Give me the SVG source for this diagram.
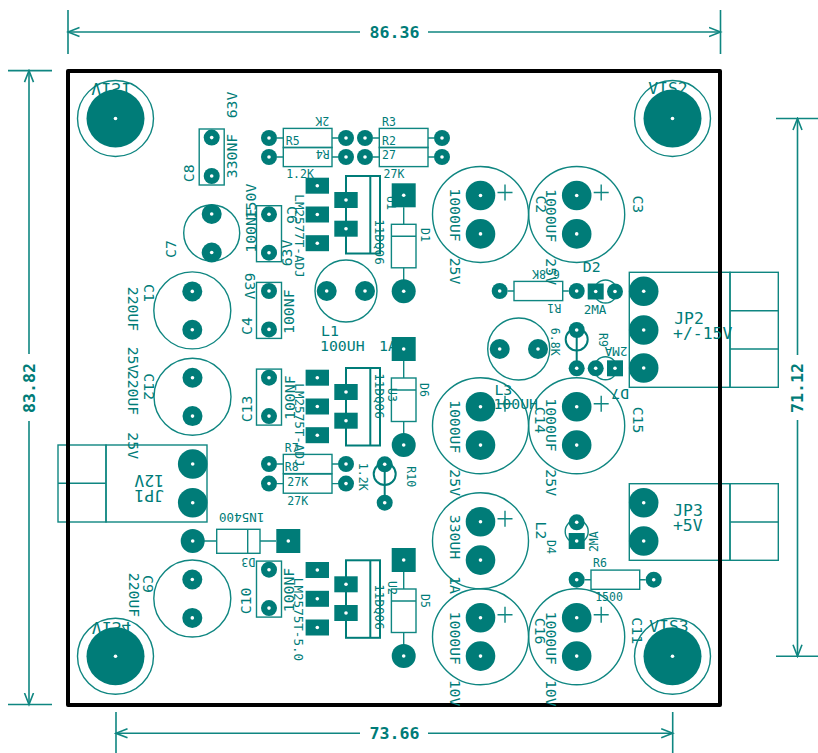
<svg xmlns="http://www.w3.org/2000/svg" width="818" height="753" viewBox="0 0 818 753">
<style>
text{font-family:"DejaVu Sans Mono","Liberation Mono",monospace;fill:#007c78;text-anchor:middle;dominant-baseline:central;font-size:14.8px}
.s{font-size:11.5px}.m{font-size:12.6px}.b{font-size:16.4px}
.d{font-size:16.6px;font-weight:bold}
.o{fill:none;stroke:#0f8681;stroke-width:1.4}
.h{fill:#fff}.f{fill:#007c78}
.th{fill:none;stroke:#007c78;stroke-width:2}
.dim{fill:none;stroke:#0f8681;stroke-width:1.6}
</style>
<defs>
<marker id="arr" markerUnits="userSpaceOnUse" markerWidth="14" markerHeight="12" refX="12" refY="6" orient="auto-start-reverse" viewBox="0 0 14 12"><path d="M0.5,1.5 L12,6 L0.5,10.5" fill="none" stroke="#0f8681" stroke-width="1.6"/></marker>
<g id="p8"><circle r="8" class="f"/><circle r="1.8" class="h"/></g>
<g id="p10"><circle r="10" class="f"/><circle r="1.8" class="h"/></g>
<g id="p12"><circle r="12" class="f"/><circle r="1.8" class="h"/></g>
<g id="p15"><circle r="14.8" class="f"/><circle r="1.8" class="h"/></g>
<g id="s16"><rect x="-8" y="-8" width="16" height="16" class="f"/><circle r="1.8" class="h"/></g>
<g id="s24"><rect x="-12" y="-12" width="24" height="24" class="f"/><circle r="1.8" class="h"/></g>
<g id="smd"><rect x="-11.7" y="-8" width="23.4" height="16" class="f"/><circle r="1.8" class="h"/></g>
<g id="mount"><circle r="38" class="o"/><circle r="29" class="f"/><circle r="1.8" class="h"/></g>
<g id="ecap"><circle r="48" cy="19" class="o"/><use href="#p15"/><use href="#p15" y="38.4"/><path class="o" d="M17,-3H32M24.5,-11V5"/></g>
<g id="cap38"><circle r="38.5" cy="19" class="o"/><use href="#p10"/><use href="#p10" y="38.4"/></g>
<g id="film"><rect x="-12.5" y="-8.6" width="25" height="56" class="o"/><use href="#p8"/><use href="#p8" y="38.4"/></g>
<g id="res"><rect x="14.3" y="-9.6" width="48.7" height="19.2" class="o"/><path class="o" d="M8,0H14.3M63,0H69"/><use href="#p8"/><use href="#p8" x="77"/></g>
<g id="diode"><rect x="-12.3" y="29" width="24.6" height="43.5" class="o"/><path class="o" d="M-12.3,41H12.3M0,12V29M0,72.5V86"/><use href="#s24"/><use href="#p12" y="96"/></g>
<g id="reg"><rect x="28.7" y="-9.7" width="34" height="77.5" class="th"/><path class="th" d="M53,-9.7V67.8"/><use href="#smd"/><use href="#smd" y="28.8"/><use href="#smd" y="57.5"/><use href="#smd" x="28.7" y="14.3"/><use href="#smd" x="28.7" y="43"/></g>
</defs>
<rect width="818" height="753" fill="#fff"/>

<g id="C8"><use href="#film" x="211.7" y="137.6"/></g>
<g id="C6"><use href="#film" x="269" y="214.3"/></g>
<g id="C4"><use href="#film" x="269" y="291"/></g>
<g id="C13"><use href="#film" x="269" y="377.7"/></g>
<g id="C10"><use href="#film" x="269" y="569.7"/></g>
<g id="C7"><circle cx="211.7" cy="233" r="28" class="o"/><use href="#p10" x="211.7" y="214"/><use href="#p10" x="211.7" y="252.5"/></g>
<g id="C1"><use href="#cap38" x="192.3" y="291.4"/></g>
<g id="C12"><use href="#cap38" x="192.5" y="377.7"/></g>
<g id="C9"><use href="#cap38" x="192.3" y="579.5"/></g>
<g id="L1"><circle cx="346" cy="291" r="31" class="o"/><use href="#p10" x="326.7" y="291"/><use href="#p10" x="365" y="291"/></g>
<g id="L3"><circle cx="518.7" cy="349" r="31" class="o"/><use href="#p10" x="499.7" y="349"/><use href="#p10" x="538" y="349"/></g>
<g id="C2"><use href="#ecap" x="480.5" y="195.5"/></g>
<g id="C3"><use href="#ecap" x="576.7" y="195.5"/></g>
<g id="C14"><use href="#ecap" x="480.5" y="406.7"/></g>
<g id="C15"><use href="#ecap" x="576.7" y="406.7"/></g>
<g id="L2"><use href="#ecap" x="480.5" y="521.7"/></g>
<g id="C16"><use href="#ecap" x="480.5" y="617.7"/></g>
<g id="C11"><use href="#ecap" x="576.7" y="617.7"/></g>
<g id="R5"><use href="#res" x="269" y="138"/></g>
<g id="R4"><use href="#res" x="269" y="157"/></g>
<g id="R2"><use href="#res" x="365" y="138"/></g>
<g id="R3"><use href="#res" x="365" y="157"/></g>
<g id="R1"><use href="#res" x="499.7" y="291"/></g>
<g id="R7"><use href="#res" x="269" y="464"/></g>
<g id="R8"><use href="#res" x="269" y="483.6"/></g>
<g id="R6"><use href="#res" x="576.7" y="579.7"/></g>
<g id="D1"><use href="#diode" x="403.7" y="195.3"/></g>
<g id="D6"><use href="#diode" x="403.7" y="349"/></g>
<g id="D5"><use href="#diode" x="403.7" y="560"/></g>
<g id="D3"><rect x="216.7" y="529.3" width="43.3" height="24" class="o"/><path class="o" d="M247.7,529.3V553.3M204,541H216.7M260,541H276"/><use href="#p12" x="192.7" y="541"/><use href="#s24" x="288.3" y="541"/></g>
<g id="D2"><circle cx="605.5" cy="291.5" r="11.5" class="o"/><use href="#s16" x="595.7" y="291.5"/><use href="#p8" x="615" y="291.5"/></g>
<g id="D7"><circle cx="605.5" cy="368.3" r="11.5" class="o"/><use href="#s16" x="615" y="368.3"/><use href="#p8" x="595.7" y="368.3"/></g>
<g id="D4"><circle cx="576.7" cy="531.5" r="11.5" class="o"/><use href="#p8" x="576.7" y="522.3"/><use href="#s16" x="576.7" y="541"/></g>
<g id="R9"><circle cx="576.7" cy="339.5" r="11" class="th"/><path class="th" d="M576.7,330V368"/><use href="#p8" x="576.7" y="330"/><use href="#p8" x="576.7" y="368.3"/></g>
<g id="R10"><circle cx="384.7" cy="474" r="11" class="th"/><path class="th" d="M384.7,464V503"/><use href="#p8" x="384.7" y="464.3"/><use href="#p8" x="384.7" y="502.7"/></g>
<g id="U1"><use href="#reg" x="317.3" y="185.7"/></g>
<g id="U3"><use href="#reg" x="317.3" y="377.7"/></g>
<g id="U2"><use href="#reg" x="317.3" y="570"/></g>
<g id="JP2"><rect x="629.3" y="272.3" width="100.7" height="115" class="o"/><rect x="730" y="272.3" width="48.3" height="115" class="o"/><path class="o" d="M730,310.7H778.3M730,349H778.3"/><use href="#p15" x="643.7" y="291.3"/><use href="#p15" x="643.7" y="330"/><use href="#p15" x="643.7" y="368"/></g>
<g id="JP3"><rect x="629.3" y="483.7" width="100.7" height="76.6" class="o"/><rect x="730" y="483.7" width="48.3" height="76.6" class="o"/><path class="o" d="M730,522H778.3"/><use href="#p15" x="643.7" y="502.7"/><use href="#p15" x="643.7" y="541"/></g>
<g id="JP1"><rect x="106" y="445" width="101" height="77" class="o"/><rect x="58" y="445" width="48" height="77" class="o"/><path class="o" d="M58,483.3H106"/><use href="#p15" x="192.7" y="464"/><use href="#p15" x="192.7" y="502.7"/></g>
<g id="VIS1"><use href="#mount" x="115.5" y="118.5"/></g>
<g id="VIS2"><use href="#mount" x="672.5" y="118.5"/></g>
<g id="VIS3"><use href="#mount" x="672.5" y="656.3"/></g>
<g id="VIS4"><use href="#mount" x="115.5" y="656.3"/></g>

<rect id="board" x="68" y="71" width="652" height="634" fill="none" stroke="#000" stroke-width="4" stroke-linejoin="round"/>

<g id="connectors">
<path class="dim" d="M68,10V54M720.5,10V54M8,70.6H52M8,704.5H52M776,118.5H818M776,656.3H818M116,712V753M672.7,712V753"/>
<path class="dim" marker-start="url(#arr)" d="M68,32H360"/><path class="dim" marker-start="url(#arr)" d="M720.5,32H428"/>
<path class="dim" marker-start="url(#arr)" d="M29,70.6V354"/><path class="dim" marker-start="url(#arr)" d="M29,704.5V421"/>
<path class="dim" marker-start="url(#arr)" d="M797.5,118.5V355"/><path class="dim" marker-start="url(#arr)" d="M797.5,656.3V420"/>
<path class="dim" marker-start="url(#arr)" d="M116,733.3H360"/><path class="dim" marker-start="url(#arr)" d="M672.7,733.3H428"/>
</g>

<g id="labels">
<text class="d" x="394.5" y="32">86.36</text>
<text class="d" transform="translate(29,388) rotate(-90)">83.82</text>
<text class="d" transform="translate(797.5,388) rotate(-90)">71.12</text>
<text class="d" x="394.5" y="733.3">73.66</text>
<text class="b" transform="translate(111,88) scale(1,-1)">VIS1</text>
<text class="b" x="668" y="88">VIS2</text>
<text class="b" x="669" y="626">VIS3</text>
<text class="b" transform="translate(111.5,627) scale(1,-1)">VIS4</text>
<text transform="translate(231.7,105) rotate(-90)">63V</text>
<text transform="translate(231.7,156) rotate(-90)">330NF</text>
<text transform="translate(188.3,173.3) rotate(-90)">C8</text>
<text transform="translate(170,249) rotate(-90)">C7</text>
<text transform="translate(149,293) rotate(90)">C1</text>
<text transform="translate(133,309) rotate(90)">220UF</text>
<text transform="translate(133.3,360) rotate(90)">25V</text>
<text transform="translate(133.3,393) rotate(90)">220UF</text>
<text transform="translate(149,386.7) rotate(90)">C12</text>
<text transform="translate(133.3,445.7) rotate(90)">25V</text>
<text transform="translate(246.7,409) rotate(-90)">C13</text>
<text transform="translate(289,397.7) rotate(-90)">100NF</text>
<text class="m" transform="translate(299,425) rotate(90)">LM2575T-ADJ</text>
<text class="m" transform="translate(299,236) rotate(90)">LM2577T-ADJ</text>
<text class="m" transform="translate(298.7,619.5) rotate(90)">LM2575T-5.0</text>
<text transform="translate(288.3,590) rotate(-90)">100NF</text>
<text transform="translate(245.7,601) rotate(-90)">C10</text>
<text class="s" transform="translate(248.3,562.3) rotate(180)">D3</text>
<text class="m" transform="translate(241.7,517.7) rotate(180)">1N5400</text>
<text class="b" transform="translate(149.3,495.3) rotate(180)">JP1</text>
<text class="b" transform="translate(149.3,480.7) rotate(180)">12V</text>
<text transform="translate(148.3,584) rotate(90)">C9</text>
<text transform="translate(134,595) rotate(90)">220UF</text>
<text transform="translate(246,326) rotate(-90)">C4</text>
<text transform="translate(250,286) rotate(90)">63V</text>
<text transform="translate(288.3,311.7) rotate(-90)">100NF</text>
<text transform="translate(292,215) rotate(90)">C6</text>
<text transform="translate(286.7,253) rotate(-90)">63V</text>
<text transform="translate(250.7,230.5) rotate(-90)">100NF</text>
<text transform="translate(250.7,201.5) rotate(-90)">150V</text>
<text x="330" y="330.7">L1</text>
<text x="342.3" y="345.7">100UH</text>
<text x="388" y="345.7">1A</text>
<text class="s" transform="translate(391,203) rotate(90)">U1</text>
<text class="m" transform="translate(379,242) rotate(90)">11DQ06</text>
<text class="s" transform="translate(391.7,395) rotate(90)">U3</text>
<text class="m" transform="translate(379,396) rotate(90)">11DQ06</text>
<text class="s" transform="translate(391.7,588) rotate(90)">U2</text>
<text class="m" transform="translate(379.3,607) rotate(90)">11DQ06</text>
<text class="s" transform="translate(425,235) rotate(90)">D1</text>
<text class="s" transform="translate(424,390) rotate(90)">D6</text>
<text class="s" transform="translate(425,601) rotate(90)">D5</text>
<text class="s" x="292.7" y="140.7">R5</text>
<text class="s" transform="translate(322.7,154.3) rotate(180)">R4</text>
<text class="s" transform="translate(322.3,120.7) rotate(180)">2K</text>
<text class="s" x="300" y="174.3">1.2K</text>
<text class="s" x="389" y="121.7">R3</text>
<text class="s" x="389" y="140.7">R2</text>
<text class="s" x="389" y="155">27</text>
<text class="s" x="394" y="174.3">27K</text>
<text transform="translate(455.7,215) rotate(90)">1000UF</text>
<text transform="translate(455.7,271) rotate(90)">25V</text>
<text transform="translate(541.7,204.3) rotate(90)">C2</text>
<text transform="translate(551.7,215.7) rotate(90)">1000UF</text>
<text transform="translate(638.3,204.3) rotate(90)">C3</text>
<text transform="translate(551.7,271.7) rotate(90)">25V</text>
<text class="s" transform="translate(546,274) rotate(180)">6.8K</text>
<text class="s" transform="translate(554.3,308) rotate(180)">R1</text>
<text x="591.7" y="266">D2</text>
<text class="m" x="595" y="309">2MA</text>
<text class="b" x="689" y="318">JP2</text>
<text class="b" x="702.7" y="333">+/-15V</text>
<text class="b" x="688" y="510.5">JP3</text>
<text class="b" x="687.7" y="525.5">+5V</text>
<text class="s" transform="translate(555,341.7) rotate(90)">6.8K</text>
<text class="s" transform="translate(603.3,340) rotate(90)">R9</text>
<text class="m" transform="translate(616,351) rotate(180)">2MA</text>
<text transform="translate(620,394) rotate(180)">D7</text>
<text x="503.3" y="389">L3</text>
<text x="515.7" y="403.3">100UH</text>
<text transform="translate(455.7,426.7) rotate(90)">1000UF</text>
<text transform="translate(455.7,482.7) rotate(90)">25V</text>
<text transform="translate(540.7,420) rotate(90)">C14</text>
<text transform="translate(551.7,425) rotate(90)">1000UF</text>
<text transform="translate(638.3,420) rotate(90)">C15</text>
<text transform="translate(551.7,482.7) rotate(90)">25V</text>
<text transform="translate(455.7,537) rotate(90)">330UH</text>
<text transform="translate(455.7,585) rotate(90)">1A</text>
<text transform="translate(455.7,638.3) rotate(90)">1000UF</text>
<text transform="translate(455.7,693) rotate(90)">10V</text>
<text transform="translate(541.7,530.5) rotate(90)">L2</text>
<text class="s" transform="translate(551,547) rotate(90)">D4</text>
<text class="s" transform="translate(594.3,541.7) rotate(-90)">2MA</text>
<text class="s" x="600" y="563.3">R6</text>
<text class="s" x="609" y="596.7">1500</text>
<text transform="translate(540.7,631) rotate(90)">C16</text>
<text transform="translate(551.7,638.3) rotate(90)">1000UF</text>
<text transform="translate(551.7,693.3) rotate(90)">10V</text>
<text transform="translate(637.7,630.7) rotate(90)">C11</text>
<text class="s" x="291.7" y="448">R7</text>
<text class="s" x="291.7" y="467.3">R8</text>
<text class="s" x="297.7" y="481.7">27K</text>
<text class="s" x="297.7" y="500.7">27K</text>
<text class="s" transform="translate(362.7,476.7) rotate(90)">1.2K</text>
<text class="s" transform="translate(410.7,476.7) rotate(90)">R10</text>
</g>
</svg>
